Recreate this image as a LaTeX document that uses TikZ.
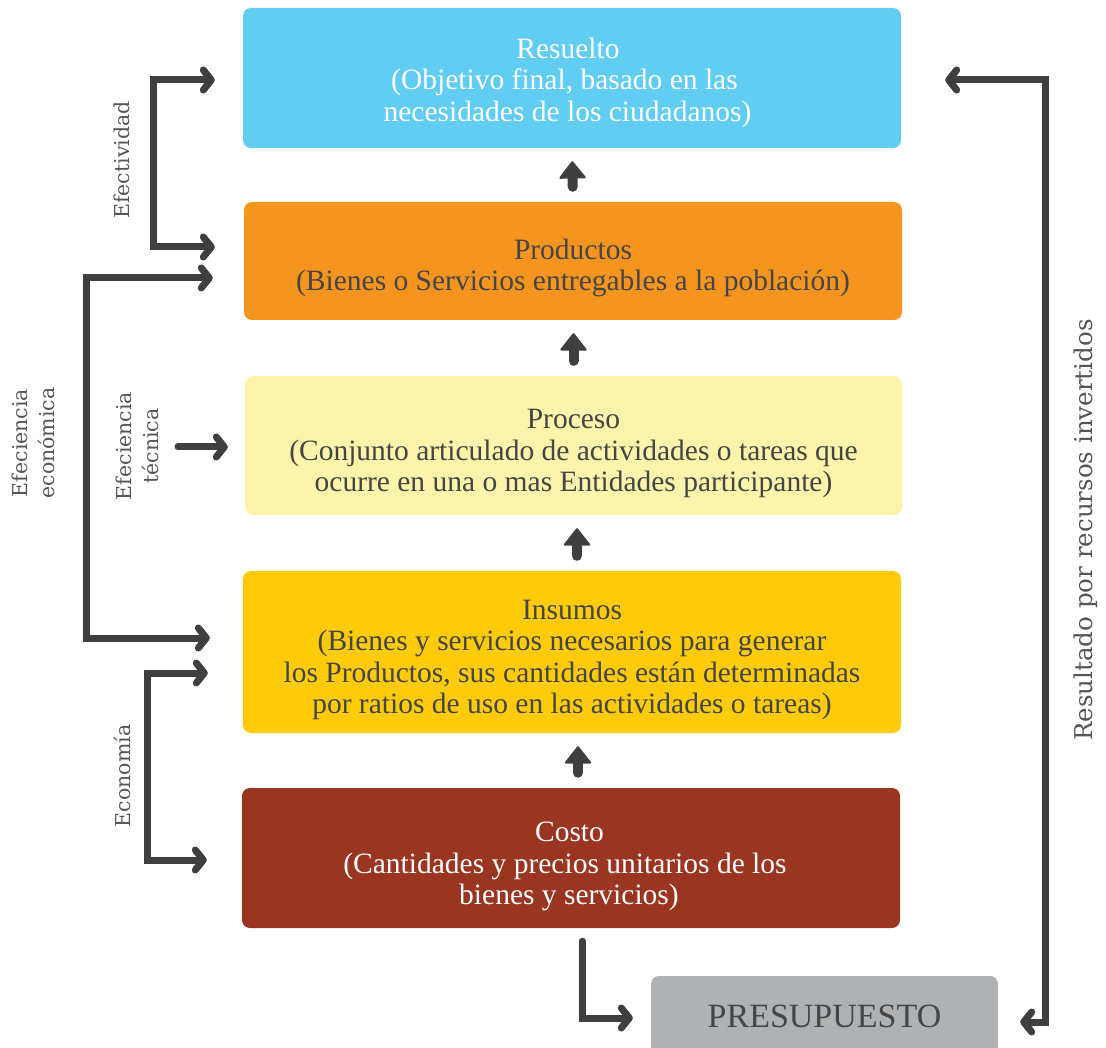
\documentclass[tikz,border=0pt]{standalone}
\usepackage{fontspec}
\setmainfont{Liberation Serif}
\newfontfamily\sidefont{DejaVu Serif}
\usetikzlibrary{arrows.meta}

\definecolor{resueltoc}{HTML}{62CDF3}
\definecolor{productosc}{HTML}{F5951F}
\definecolor{procesoc}{HTML}{FBF4AA}
\definecolor{insumosc}{HTML}{FDCB0A}
\definecolor{costoc}{HTML}{993520}
\definecolor{presuc}{HTML}{AFB2B5}
\definecolor{inkc}{HTML}{454545}
\definecolor{arrowc}{HTML}{3F3F41}
\definecolor{labelc}{HTML}{555555}

\newcommand\boxtext{\fontsize{29.5}{31.5}\selectfont}
\newcommand\sidetext{\sidefont\fontsize{20.5}{27}\selectfont}
% invisible strut that sets the height of a box's first line
\newcommand\headroom[1]{\rule{0pt}{#1}}
% invisible trailing space at the end of a line
\newcommand\tail[1]{\rule{#1}{0pt}}

\begin{document}
\begin{tikzpicture}[x=1pt, y=-1pt,
  stagebox/.style={rounded corners=8pt, minimum width=658pt, inner sep=0pt,
    align=center, font=\boxtext, text=inkc},
  uparrow/.style={draw=arrowc, line width=10pt, line cap=round,
    -{Triangle[length=18pt, width=28pt, line width=2pt, round]},
    shorten <=15pt, shorten >=13pt},
  sidearrow/.style={draw=arrowc, line width=7pt,
    -{Straight Barb[length=8pt, width=20pt, round]}},
  bracketarrow/.style={draw=arrowc, line width=7pt,
    {Straight Barb[length=8pt, width=20pt, round]}-{Straight Barb[length=8pt, width=20pt, round]}},
  sidelabel/.style={rotate=90, align=center, font=\sidetext, text=labelc, inner sep=0pt}
]
\useasboundingbox (0,0) rectangle (1106,1048);

% stages of the chain, bottom to top
\node[stagebox, fill=resueltoc, text=white, minimum height=140pt] (resuelto) at (572,78)
  {\headroom{29.5pt}Resuelto\tail{8pt}\\(Objetivo final, basado en las\tail{15pt}\\necesidades de los ciudadanos)\tail{9pt}};
\node[stagebox, fill=productosc, minimum height=118pt] (productos) at (573,261)
  {\headroom{34.5pt}Productos\\(Bienes o Servicios entregables a la población)};
\node[stagebox, fill=procesoc, minimum height=139pt, minimum width=657pt] (proceso) at (573.5,445.5)
  {\headroom{36pt}Proceso\\(Conjunto articulado de actividades o tareas que\\ocurre en una o mas Entidades participante)};
\node[stagebox, fill=insumosc, minimum height=162pt] (insumos) at (572,652)
  {\headroom{35.5pt}Insumos\\(Bienes y servicios necesarios para generar\\los Productos, sus cantidades están determinadas\\por ratios de uso en las actividades o tareas)};
\node[stagebox, fill=costoc, text=white, minimum height=140pt] (costo) at (571,858)
  {\headroom{37pt}Costo\tail{3pt}\\(Cantidades y precios unitarios de los\tail{12pt}\\bienes y servicios)\tail{4pt}};
\node[stagebox, fill=presuc, minimum width=347pt, minimum height=80pt,
  font=\fontsize{34}{34}\selectfont] (presu) at (824.5,1016) {PRESUPUESTO};

% flow between stages
\draw[uparrow] (productos.north) -- (resuelto.south);
\draw[uparrow] (proceso.north) -- (proceso.north |- productos.south);
\draw[uparrow] ([xshift=5pt]insumos.north) -- ([xshift=5pt]insumos.north |- proceso.south);
\draw[uparrow] ([xshift=7pt]costo.north) -- ([xshift=7pt]costo.north |- insumos.south);

% side measures
\coordinate (efx) at (153,160);
\draw[bracketarrow, shorten <=28pt, shorten >=29pt]
  ([yshift=-2pt]resuelto.west) -| (efx) |- ([yshift=14pt]productos.west);
\node[sidelabel] (efectividad) at (122,160) {Efectividad};

\coordinate (ecx) at (86,450);
\draw[bracketarrow, shorten <=31pt, shorten >=33pt]
  ([yshift=-17pt]productos.west) -| (ecx) |- ([yshift=14pt]insumos.west);
\node[sidelabel] (econ) at (33,443) {Efeciencia\\económica};

\coordinate (tecstart) at (178,447);
\draw[sidearrow, line cap=round, shorten >=17pt] (tecstart) -- (tecstart -| proceso.west);
\node[sidelabel] (tecnica) at (137,446) {Efeciencia\\técnica};

\coordinate (eox) at (147,770);
\draw[bracketarrow, shorten <=35pt, shorten >=35pt]
  ([yshift=-21pt]insumos.west) -| (eox) |- ([yshift=-2pt]costo.west);
\node[sidelabel] (economia) at (122,776) {Economía};

\coordinate (rx) at (1045,530);
\draw[bracketarrow, shorten <=22pt, shorten >=44pt]
  ([yshift=-6pt]presu.east) -| (rx) |- ([yshift=-2pt]resuelto.east);
\node[sidelabel, font=\sidefont\fontsize{24.5}{28}\selectfont] (resultado) at (1086,530)
  {Resultado por recursos invertidos};

% budget drawn from the cost
\draw[sidearrow, line cap=round, shorten >=18pt]
  ([xshift=11pt,yshift=-13pt]costo.south) |- ([yshift=-2pt]presu.west);
\end{tikzpicture}
\end{document}
